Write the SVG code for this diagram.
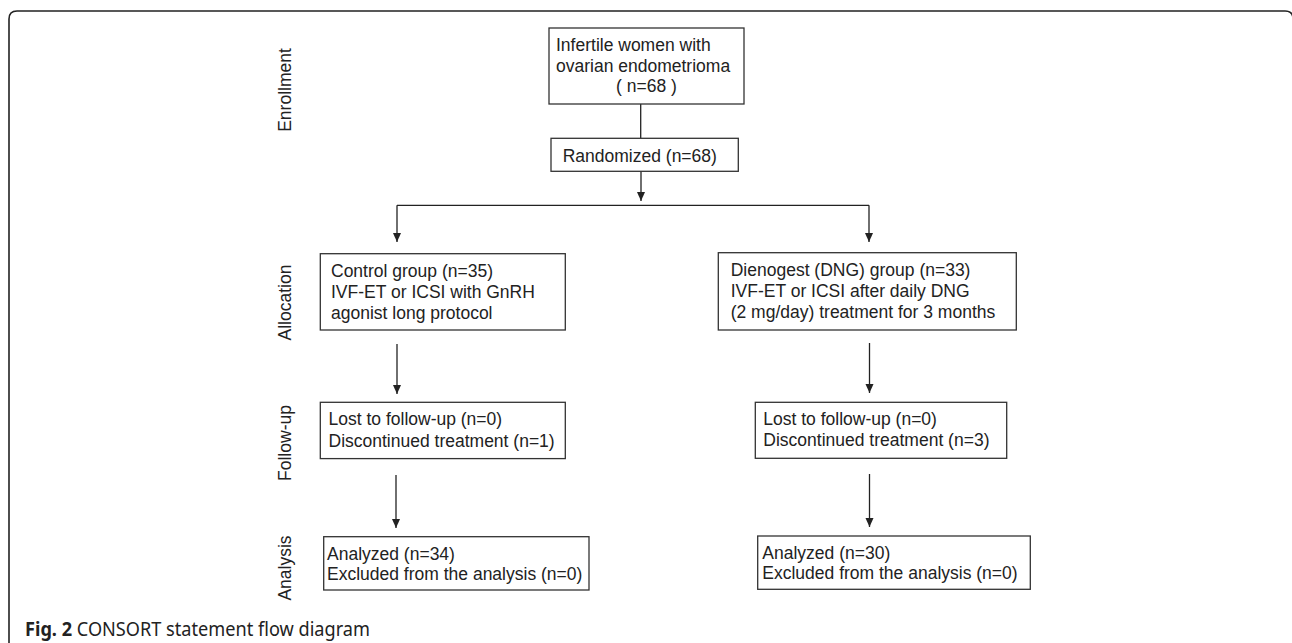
<svg xmlns="http://www.w3.org/2000/svg" width="1292" height="643" viewBox="0 0 1292 643">
<style>
.box{fill:#fff;stroke:#333;stroke-width:1.3}
.t{font-family:"Liberation Sans",Arial,sans-serif;font-size:17.5px;fill:#222}
.lbl{font-family:"Liberation Sans",Arial,sans-serif;font-size:17.5px;fill:#222;text-anchor:middle}
.ln{fill:none;stroke:#222;stroke-width:1.3}
.cap{font-family:"Noto Sans","Open Sans",sans-serif;font-size:20px;fill:#222}
</style>
<defs>
<marker id="ah" markerUnits="userSpaceOnUse" markerWidth="10" markerHeight="10" refX="9" refY="4" orient="auto">
<path d="M0,0 L9,4 L0,8 z" fill="#222"/>
</marker>
</defs>
<rect width="1292" height="643" fill="#fff"/>
<path d="M9,650 V19 Q9,11 17,11 H1285 Q1293,11 1293,19 V650" fill="none" stroke="#222" stroke-width="1.6"/>

<g id="stage-labels">
<text class="lbl" transform="translate(291,90) rotate(-90)">Enrollment</text>
<text class="lbl" transform="translate(291,302.5) rotate(-90)">Allocation</text>
<text class="lbl" transform="translate(291,443) rotate(-90)">Follow-up</text>
<text class="lbl" transform="translate(291,568) rotate(-90)">Analysis</text>
</g>

<g id="connectors">
<path class="ln" d="M640.7,104 V138"/>
<path class="ln" d="M641,171 V201" marker-end="url(#ah)"/>
<path class="ln" d="M397,205.3 H869"/>
<path class="ln" d="M397,205.3 V242" marker-end="url(#ah)"/>
<path class="ln" d="M869,205.3 V242" marker-end="url(#ah)"/>
<path class="ln" d="M397,344 V394" marker-end="url(#ah)"/>
<path class="ln" d="M869.5,343 V393" marker-end="url(#ah)"/>
<path class="ln" d="M396,475 V528" marker-end="url(#ah)"/>
<path class="ln" d="M869.5,474 V527" marker-end="url(#ah)"/>
</g>

<g id="enrollment">
<rect class="box" x="549" y="28" width="195" height="76"/>
<text class="t" x="556" y="51">Infertile women with</text>
<text class="t" x="556" y="72">ovarian endometrioma</text>
<text class="t" x="646.5" y="92" text-anchor="middle">( n=68 )</text>
</g>

<g id="randomized">
<rect class="box" x="551" y="138.3" width="187.3" height="33"/>
<text class="t" x="562.7" y="161.5">Randomized (n=68)</text>
</g>

<g id="control-group">
<rect class="box" x="320.3" y="253.7" width="245" height="76.3"/>
<text class="t" x="331" y="276.5">Control group (n=35)</text>
<text class="t" x="331" y="298">IVF-ET or ICSI with GnRH</text>
<text class="t" x="331" y="319">agonist long protocol</text>
</g>

<g id="dng-group">
<rect class="box" x="718.3" y="252.7" width="298" height="77.3"/>
<text class="t" x="730.7" y="276">Dienogest (DNG) group (n=33)</text>
<text class="t" x="730.7" y="297.3">IVF-ET or ICSI after daily DNG</text>
<text class="t" x="730.7" y="317.5">(2 mg/day) treatment for 3 months</text>
</g>

<g id="control-followup">
<rect class="box" x="320.3" y="402.3" width="245" height="56.3"/>
<text class="t" x="328.5" y="425">Lost to follow-up (n=0)</text>
<text class="t" x="328.5" y="446.5">Discontinued treatment (n=1)</text>
</g>

<g id="dng-followup">
<rect class="box" x="755.3" y="402.3" width="251.4" height="56"/>
<text class="t" x="763.3" y="425">Lost to follow-up (n=0)</text>
<text class="t" x="763.3" y="446">Discontinued treatment (n=3)</text>
</g>

<g id="control-analysis">
<rect class="box" x="323.7" y="536.7" width="265.3" height="53.3"/>
<text class="t" x="327" y="559.5">Analyzed (n=34)</text>
<text class="t" x="327" y="579.5">Excluded from the analysis (n=0)</text>
</g>

<g id="dng-analysis">
<rect class="box" x="757.7" y="536" width="272.6" height="53.3"/>
<text class="t" x="762.3" y="558.5">Analyzed (n=30)</text>
<text class="t" x="762.3" y="579">Excluded from the analysis (n=0)</text>
</g>

<text class="cap" x="25" y="636" textLength="345" lengthAdjust="spacingAndGlyphs"><tspan font-weight="bold">Fig. 2</tspan> CONSORT statement flow diagram</text>
</svg>
